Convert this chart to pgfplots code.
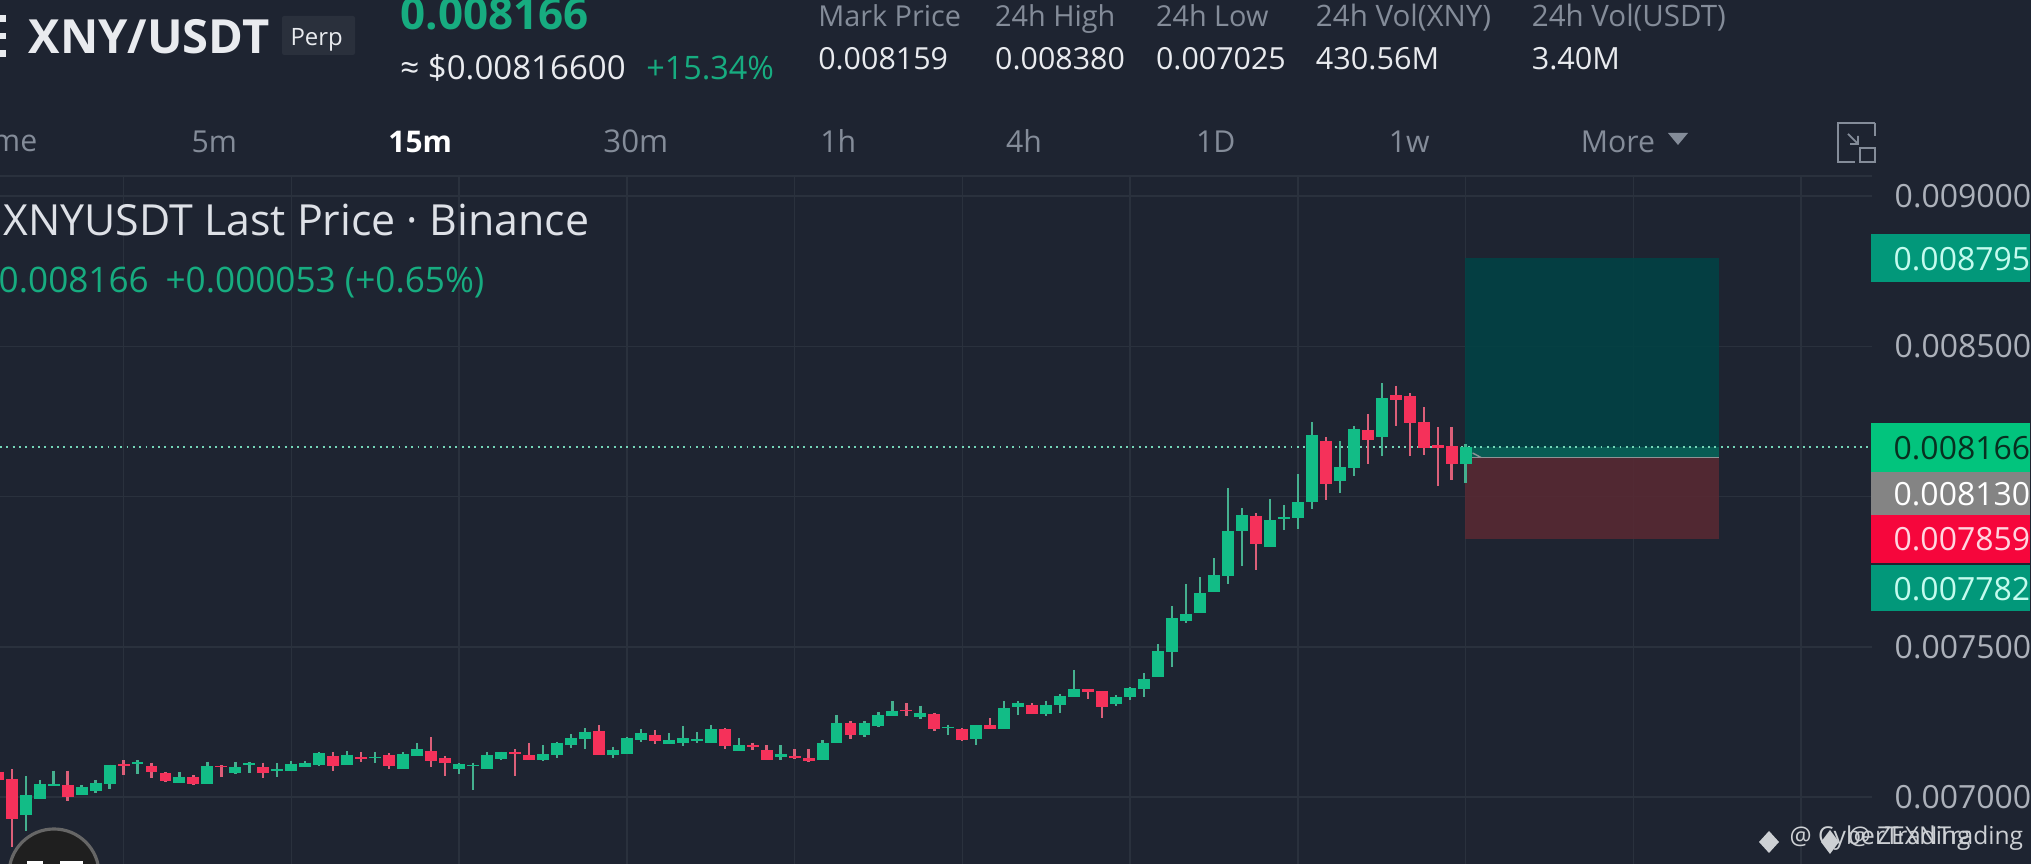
\documentclass[border=0pt]{standalone}
\usepackage{pgfplots}
\usepackage{pgfplotstable}
\pgfplotsset{compat=1.18}
\usepackage{fontspec}
\setmainfont{Open Sans}
\definecolor{bg}{HTML}{1E2431}
\definecolor{gridc}{HTML}{2A313D}
\definecolor{upc}{HTML}{12BC86}
\definecolor{dnc}{HTML}{F5315A}
\definecolor{upw}{HTML}{45B08F}
\definecolor{dnw}{HTML}{DC5F79}
\definecolor{gtxt}{HTML}{17AC80}
\definecolor{mut}{HTML}{848C99}
\definecolor{axt}{HTML}{ACB1BA}
\definecolor{wht}{HTML}{E9EBEF}
\definecolor{tealb}{HTML}{02987A}
\definecolor{tealt}{HTML}{C4FBEE}
\definecolor{zoneg}{HTML}{004345}
\definecolor{zonel}{HTML}{085C54}
\definecolor{zoner}{HTML}{5A2933}
\definecolor{entry}{HTML}{8E9496}
\definecolor{lastp}{HTML}{74D6B8}
\definecolor{tagg}{HTML}{02C47D}
\definecolor{taggt}{HTML}{083020}
\definecolor{taggr}{HTML}{848484}
\definecolor{tagr}{HTML}{F6063C}
\definecolor{tagrt}{HTML}{FFD6E0}
\definecolor{perp}{HTML}{2A303C}
\definecolor{ttl}{HTML}{DEE1E7}
\definecolor{wm}{HTML}{CDD0D4}
% columns: candle, body top, body bottom, high, low
\pgfplotstableread{
i top bot hi lo
1 0.007007 0.006940 0.007070 0.006887
2 0.007043 0.006993 0.007057 0.006993
3 0.007043 0.007037 0.007088 0.007037
5 0.007034 0.007008 0.007040 0.007006
6 0.007048 0.007021 0.007057 0.007014
7 0.007106 0.007043 0.007108 0.007026
9 0.007115 0.007109 0.007123 0.007077
12 0.007065 0.007048 0.007083 0.007045
14 0.007103 0.007043 0.007118 0.007043
16 0.007099 0.007081 0.007116 0.007077
17 0.007112 0.007108 0.007116 0.007079
19 0.007092 0.007088 0.007112 0.007065
20 0.007110 0.007087 0.007121 0.007085
21 0.007114 0.007100 0.007120 0.007099
22 0.007145 0.007105 0.007150 0.007103
24 0.007141 0.007105 0.007153 0.007105
26 0.007132 0.007129 0.007150 0.007112
28 0.007142 0.007094 0.007150 0.007093
29 0.007159 0.007136 0.007179 0.007136
32 0.007110 0.007093 0.007112 0.007077
33 0.007106 0.007102 0.007114 0.007023
34 0.007140 0.007093 0.007150 0.007092
35 0.007149 0.007126 0.007151 0.007123
38 0.007143 0.007123 0.007173 0.007121
39 0.007181 0.007140 0.007184 0.007129
40 0.007195 0.007172 0.007209 0.007164
41 0.007217 0.007192 0.007229 0.007159
43 0.007156 0.007139 0.007168 0.007130
44 0.007195 0.007142 0.007201 0.007142
45 0.007213 0.007190 0.007227 0.007183
47 0.007190 0.007176 0.007212 0.007176
48 0.007196 0.007179 0.007236 0.007170
49 0.007192 0.007187 0.007216 0.007179
50 0.007226 0.007179 0.007240 0.007179
52 0.007173 0.007153 0.007196 0.007153
55 0.007143 0.007134 0.007173 0.007123
58 0.007181 0.007123 0.007190 0.007123
59 0.007245 0.007179 0.007273 0.007179
61 0.007245 0.007205 0.007253 0.007201
62 0.007272 0.007235 0.007283 0.007233
63 0.007286 0.007268 0.007319 0.007268
65 0.007278 0.007265 0.007304 0.007261
67 0.007234 0.007230 0.007241 0.007206
69 0.007238 0.007192 0.007240 0.007173
71 0.007295 0.007225 0.007319 0.007225
72 0.007313 0.007300 0.007319 0.007273
74 0.007305 0.007275 0.007321 0.007270
75 0.007336 0.007306 0.007342 0.007281
76 0.007359 0.007333 0.007423 0.007333
79 0.007333 0.007308 0.007338 0.007303
80 0.007362 0.007333 0.007365 0.007323
81 0.007392 0.007361 0.007412 0.007333
82 0.007486 0.007399 0.007508 0.007399
83 0.007595 0.007484 0.007636 0.007432
84 0.007608 0.007587 0.007709 0.007578
85 0.007679 0.007613 0.007731 0.007613
86 0.007739 0.007683 0.007794 0.007683
87 0.007884 0.007737 0.008027 0.007709
88 0.007938 0.007885 0.007961 0.007769
90 0.007922 0.007833 0.007991 0.007833
91 0.007932 0.007926 0.007972 0.007889
92 0.007981 0.007928 0.008074 0.007891
93 0.008205 0.007981 0.008248 0.007958
95 0.008097 0.008052 0.008185 0.008013
96 0.008225 0.008096 0.008235 0.008068
98 0.008328 0.008198 0.008377 0.008136
104 0.008166 0.008109 0.008174 0.008044
}\upcandles
\pgfplotstableread{
i top bot hi lo
-1 0.007084 0.007057 0.007092 0.007051
0 0.007060 0.006927 0.007092 0.006832
4 0.007040 0.006999 0.007088 0.006988
8 0.007110 0.007104 0.007123 0.007073
10 0.007104 0.007083 0.007114 0.007063
11 0.007079 0.007053 0.007083 0.007050
13 0.007067 0.007043 0.007073 0.007039
15 0.007103 0.007099 0.007105 0.007065
18 0.007099 0.007079 0.007114 0.007063
23 0.007136 0.007102 0.007150 0.007085
25 0.007133 0.007128 0.007149 0.007116
27 0.007140 0.007102 0.007145 0.007094
30 0.007152 0.007119 0.007200 0.007099
31 0.007130 0.007113 0.007136 0.007070
36 0.007150 0.007143 0.007159 0.007071
37 0.007140 0.007123 0.007181 0.007123
42 0.007220 0.007140 0.007240 0.007140
46 0.007205 0.007186 0.007223 0.007176
51 0.007226 0.007171 0.007228 0.007159
53 0.007172 0.007165 0.007181 0.007156
54 0.007156 0.007123 0.007172 0.007123
56 0.007135 0.007131 0.007159 0.007125
57 0.007129 0.007121 0.007160 0.007118
60 0.007245 0.007206 0.007253 0.007193
64 0.007291 0.007285 0.007312 0.007270
66 0.007276 0.007225 0.007281 0.007221
68 0.007227 0.007190 0.007230 0.007185
70 0.007238 0.007227 0.007262 0.007225
73 0.007306 0.007276 0.007312 0.007276
77 0.007358 0.007351 0.007360 0.007325
78 0.007353 0.007300 0.007353 0.007263
89 0.007935 0.007843 0.007944 0.007755
94 0.008185 0.008042 0.008199 0.007988
97 0.008221 0.008188 0.008275 0.008108
99 0.008337 0.008322 0.008369 0.008235
100 0.008334 0.008246 0.008343 0.008136
101 0.008247 0.008163 0.008298 0.008138
102 0.008170 0.008163 0.008231 0.008035
103 0.008167 0.008109 0.008232 0.008056
}\downcandles
\newcommand{\T}[5]{\node[anchor=base west,inner sep=0pt,text=#4] at ({#1*0.01},{(864-#2)*0.01}) {\fontsize{#3}{#3}\selectfont #5};}
\newcommand{\R}[5]{\fill[#5] ({#1*0.01},{(864-#2)*0.01}) rectangle ({#3*0.01},{(864-#4)*0.01});}
\begin{document}
\begin{tikzpicture}
\path[use as bounding box] (0,0) rectangle (20.31,8.64);
\clip (0,0) rectangle (20.31,8.64);
\fill[bg] (0,0) rectangle (20.31,8.64);
\begin{axis}[
  at={(0,0)},anchor=south west,scale only axis,width=18.72cm,height=6.88cm,
  xmin=-0.837,xmax=133.07,ymin=0.006777,ymax=0.009067,
  axis line style={draw=none},
  major tick length=0pt,
  scaled y ticks=false,
  xtick={8,20,32,44,56,68,80,92,104,116,128},xticklabels={},
  ytick={0.007,0.0075,0.008,0.0085,0.009},
  yticklabels={0.007000,0.007500,{},0.008500,0.009000},
  yticklabel pos=right,
  yticklabel style={font=\fontsize{9.1pt}{9pt}\selectfont,text=axt,anchor=west,inner sep=0pt,xshift=0.22cm},
  grid=both,major grid style={gridc,line width=0.45pt},
  error bars/y dir=minus,error bars/y explicit,error bars/error mark=none,
]
% trade zones
\addplot[fill=zoneg,fill opacity=0.85,draw=none] coordinates {(103.95,0.008795) (122.1,0.008795) (122.1,0.00813) (103.95,0.00813)} --cycle;
\addplot[fill=zonel,draw=none] coordinates {(103.95,0.008166) (122.1,0.008166) (122.1,0.00813) (103.95,0.00813)} --cycle;
\addplot[fill=zoner,fill opacity=0.85,draw=none] coordinates {(103.95,0.00813) (122.1,0.00813) (122.1,0.007859) (103.95,0.007859)} --cycle;
\addplot[line width=0.55pt,color=entry] coordinates {(104.4,0.00813) (122.1,0.00813)};
\addplot[line width=0.4pt,color=entry] coordinates {(104.5,0.008145) (105.1,0.00813)};
% last price line
\addplot[line width=0.5pt,color=lastp,dash pattern=on 0.55pt off 1.25pt] coordinates {(-0.837,0.008166) (133.07,0.008166)};
% wicks
\addplot[draw=none,no markers,error bars/error bar style={draw=upw,line width=0.65pt}] table[x=i,y=hi,y error minus expr=\thisrow{hi}-\thisrow{lo}] {\upcandles};
\addplot[draw=none,no markers,error bars/error bar style={draw=dnw,line width=0.65pt}] table[x=i,y=hi,y error minus expr=\thisrow{hi}-\thisrow{lo}] {\downcandles};
% bodies
\addplot[draw=none,no markers,error bars/error bar style={draw=upc,line width=3.4pt}] table[x=i,y=top,y error minus expr=\thisrow{top}-\thisrow{bot}] {\upcandles};
\addplot[draw=none,no markers,error bars/error bar style={draw=dnc,line width=3.4pt}] table[x=i,y=top,y error minus expr=\thisrow{top}-\thisrow{bot}] {\downcandles};
\end{axis}
\draw[gridc,line width=0.45pt] (0,6.88) -- (18.72,6.88);
% price tags
\R{1872}{234}{2031}{282}{tealb}
\R{1872}{423}{2031}{472}{tagg}
\R{1872}{472}{2031}{515}{taggr}
\R{1872}{515}{2031}{563}{tagr}
\R{1872}{565}{2031}{611}{tealb}
\T{1894}{270}{9.1pt}{tealt}{0.008795}
\T{1894}{459}{9.1pt}{taggt}{0.008166}
\T{1894}{505}{9.1pt}{white}{0.008130}
\T{1894}{550}{9.1pt}{tagrt}{0.007859}
\T{1894}{600}{9.1pt}{tealt}{0.007782}
% header
\R{0}{15}{6}{22}{wht}
\R{0}{33}{6}{39}{wht}
\R{0}{50}{6}{57}{wht}
\T{28}{53}{13.4pt}{wht}{\bfseries XNY/USDT}
\fill[perp,rounded corners=0.6pt] (2.82,8.48) rectangle (3.55,8.09);
\T{290}{45}{6.8pt}{wht}{Perp}
\T{400}{29}{12.5pt}{gtxt}{\bfseries 0.008166}
\T{400}{79}{9.4pt}{wht}{≈ \$0.00816600}
\T{646}{79}{9.2pt}{gtxt}{+15.34\%}
\T{818}{26}{8.2pt}{mut}{Mark Price}
\T{995}{26}{8.2pt}{mut}{24h High}
\T{1156}{26}{8.2pt}{mut}{24h Low}
\T{1316}{26}{8.4pt}{mut}{24h Vol(XNY)}
\T{1532}{26}{8.4pt}{mut}{24h Vol(USDT)}
\T{818}{69}{8.65pt}{wht}{0.008159}
\T{995}{69}{8.65pt}{wht}{0.008380}
\T{1156}{69}{8.65pt}{wht}{0.007025}
\T{1316}{69}{8.7pt}{wht}{430.56M}
\T{1532}{69}{8.7pt}{wht}{3.40M}
% interval row
\node[anchor=base east,inner sep=0pt,text=mut] at (0.38,7.12) {\fontsize{8.6pt}{8.6pt}\selectfont Time};
\T{191}{152}{8.6pt}{mut}{5m}
\T{388}{152}{8.5pt}{white}{\bfseries 15m}
\T{603}{152}{8.9pt}{mut}{30m}
\T{820}{152}{8.6pt}{mut}{1h}
\T{1006}{152}{8.6pt}{mut}{4h}
\T{1196}{152}{8.6pt}{mut}{1D}
\T{1389}{152}{8.6pt}{mut}{1w}
\T{1581}{152}{8.6pt}{mut}{More}
\fill[mut] (16.68,7.31) -- (16.88,7.31) -- (16.78,7.19) -- cycle;
\draw[mut,line width=0.6pt] (18.75,7.41) -- (18.38,7.41) -- (18.38,7.02) -- (18.55,7.02);
\draw[mut,line width=0.6pt] (18.75,7.41) -- (18.75,7.28);
\draw[mut,line width=0.6pt] (18.60,7.02) rectangle (18.75,7.16);
\draw[mut,line width=0.5pt] (18.48,7.30) -- (18.58,7.20) (18.58,7.28) -- (18.58,7.20) -- (18.50,7.20);
% legend text on chart
\T{3}{235}{12.2pt}{ttl}{XNYUSDT Last Price · Binance}
\T{-2}{292}{10pt}{gtxt}{0.008166}
\T{165}{292}{10pt}{gtxt}{+0.000053 (+0.65\%)}
% watermark
\T{1790}{845}{7pt}{wm}{@ CyberTrading}
\T{1849}{845}{7pt}{wm}{@ ZEXNTrading}
\fill[wm] (17.59,0.22) -- (17.69,0.33) -- (17.79,0.22) -- (17.69,0.11) -- cycle;
\fill[wm] (18.21,0.22) -- (18.30,0.34) -- (18.39,0.22) -- (18.30,0.10) -- cycle;
% avatar
\fill[black!88,draw=black!60,line width=0.9pt] (0.54,-0.10) circle (0.45);
\R{27}{861}{43}{864}{white}
\R{60}{861}{83}{864}{white}
\end{tikzpicture}
\end{document}
